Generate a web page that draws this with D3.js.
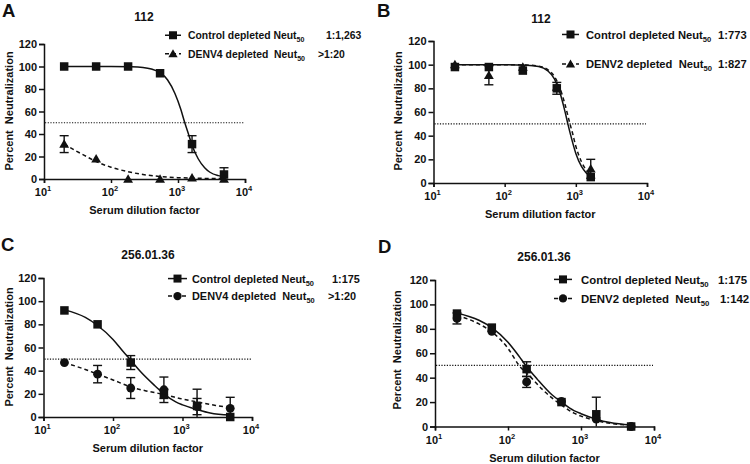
<!DOCTYPE html>
<html><head><meta charset="utf-8">
<script src="https://cdn.jsdelivr.net/npm/d3@7"></script>
<style>
html,body{margin:0;padding:0;background:#fff;}
svg{display:block;}
text{font-family:"Liberation Sans",Arial,sans-serif;font-weight:bold;fill:#111;}
</style></head>
<body>
<svg id="chart" width="750" height="464"></svg>
<script>
// ---------- data ----------
const dilutions = [20, 60, 180, 540, 1620, 4860];
const dilutionsB = [20, 60, 180, 540, 1620];
const yTicks = [0, 20, 40, 60, 80, 100, 120];
const xTicks = [10, 100, 1000, 10000];
const xTickExp = ["1", "2", "3", "4"];

// Panel A (112)
const aControl = [100, 100, 100, 94, 31, 4];
const aControlErr = [0, 0, 0, 0, 7.5, 6];
const aDenv4 = [31, 18, 0, 0, 1, 0];
const aDenv4Err = [7.5, 0, 0, 0, 0, 0];
const aControlFit = [[20,100],[100,100],[200,99.8],[300,99.2],[400,97.8],[540,94.5],[700,88],[900,76],[1100,62],[1263,50],[1450,39],[1620,30],[2000,18],[2500,10],[3000,6],[4000,3],[4860,2]];
const aDenv4Fit = [[20,31],[30,25],[40,21],[60,15.5],[100,10.5],[180,6.5],[300,4],[540,2.2],[1000,1.2],[1620,0.8],[4860,0.3]];

// Panel B (112)
const bControl = [98, 98, 95, 80, 5];
const bControlErr = [0, 0, 0, 5, 0];
const bDenv2 = [100, 91, 98, 81, 12];
const bDenv2Err = [0, 8, 0, 0, 8];
const bControlFit = [[20,100],[100,100],[200,99.6],[300,98.5],[400,95],[500,88],[600,76],[700,61],[773,50],[850,40],[1000,25],[1200,14],[1400,8.5],[1620,5.5]];
const bDenv2Fit = [[20,100],[100,100],[200,99.7],[300,98.8],[400,96],[500,90],[600,80],[700,67],[827,50],[900,42],[1000,31],[1200,18],[1400,11],[1620,7.5]];

// Panel C (256.01.36)
const cControl = [92, 80, 47, 20, 9.5, 0];
const cControlErr = [0, 0, 6, 4, 14.5, 0];
const cDenv4 = [47, 37, 25, 23.5, 9, 7.5];
const cDenv4Err = [0, 7.5, 9, 11, 7, 9.5];
const cControlFit = [[20,92.5],[40,86],[60,79],[100,67],[140,56.5],[175,50],[250,39],[400,27],[540,20],[800,13],[1000,10.5],[1620,6.5],[2500,3.5],[4860,1.7]];
const cDenv4Fit = [[20,47],[40,41],[60,37],[100,32],[180,26],[300,22.5],[540,19.5],[1000,15.5],[1620,13],[3000,10],[4860,8]];

// Panel D (256.01.36)
const dControl = [92.5, 81, 47, 20, 10, 0];
const dControlErr = [0, 0, 6, 0, 14, 0];
const dDenv2 = [88.5, 78, 36.5, 20.5, 6, 0];
const dDenv2Err = [4.5, 0, 4.5, 0, 0, 0];
const dControlFit = [[20,93],[40,87],[60,81],[100,69],[140,58],[175,50],[250,39],[400,26],[540,20],[800,13],[1000,10.5],[1620,6],[2500,3.2],[4860,1.2]];
const dDenv2Fit = [[20,91],[40,84],[60,77.5],[100,64],[142,50],[200,41],[300,30],[540,17.5],[800,11],[1000,8.5],[1620,4.8],[2500,2.6],[4860,1]];

// ---------- layout ----------
const panels = [
  {letter:"A", title:"112", lx:[2,17], tx:[144,21], x0:44, x1:245, y0:179, y1:44, yTitle:[9,111], xTitle:35,
   legFs:10.4, legSym:[165,181], legText:188, legRows:[39,57.5], valX:[326,318],
   series:[
     {name:"Control depleted Neut", val:"1:1,263", x:dilutions, y:aControl, e:aControlErr, fit:aControlFit, mark:"square", dash:null},
     {name:"DENV4 depleted  Neut", val:">1:20", x:dilutions, y:aDenv4, e:aDenv4Err, fit:aDenv4Fit, mark:"triangle", dash:"4,3"}]},
  {letter:"B", title:"112", lx:[377,17], tx:[541,22.5], x0:433.5, x1:647, y0:183, y1:41, yTitle:[398,111], xTitle:35,
   legFs:11.2, legSym:[562,579], legText:586, legRows:[38.5,68], valX:[718,718],
   series:[
     {name:"Control depleted Neut", val:"1:773", x:dilutionsB, y:bControl, e:bControlErr, fit:bControlFit, mark:"square", dash:null},
     {name:"DENV2 depleted  Neut", val:"1:827", x:dilutionsB, y:bDenv2, e:bDenv2Err, fit:bDenv2Fit, mark:"triangle", dash:"4,3"}]},
  {letter:"C", title:"256.01.36", lx:[1,251], tx:[148,259], x0:43.5, x1:252, y0:417, y1:278, yTitle:[9,347], xTitle:35,
   legFs:10.9, legSym:[168,187], legText:192, legRows:[282.5,300], valX:[332,328],
   series:[
     {name:"Control depleted Neut", val:"1:175", x:dilutions, y:cControl, e:cControlErr, fit:cControlFit, mark:"square", dash:null},
     {name:"DENV4 depleted  Neut", val:">1:20", x:dilutions, y:cDenv4, e:cDenv4Err, fit:cDenv4Fit, mark:"circle", dash:"4,3"}]},
  {letter:"D", title:"256.01.36", lx:[378,253], tx:[544,261], x0:435, x1:654, y0:426.5, y1:280, yTitle:[397,350], xTitle:35,
   legFs:11.4, legSym:[554,572], legText:581, legRows:[283.5,302.5], valX:[718,720],
   series:[
     {name:"Control depleted Neut", val:"1:175", x:dilutions, y:dControl, e:dControlErr, fit:dControlFit, mark:"square", dash:null},
     {name:"DENV2 depleted  Neut", val:"1:142", x:dilutions, y:dDenv2, e:dDenv2Err, fit:dDenv2Fit, mark:"circle", dash:"4,3"}]}
];

const svg = d3.select("#chart");

function drawMarker(g, type, cx, cy, s) {
  if (type === "square") {
    g.append("rect").attr("x", cx - s/2).attr("y", cy - s/2).attr("width", s).attr("height", s).attr("fill", "#111");
  } else if (type === "triangle") {
    const h = s * 0.95;
    g.append("path").attr("d", `M${cx},${cy - h*0.6}L${cx + s*0.58},${cy + h*0.45}L${cx - s*0.58},${cy + h*0.45}Z`).attr("fill", "#111");
  } else {
    g.append("circle").attr("cx", cx).attr("cy", cy).attr("r", s*0.52).attr("fill", "#111");
  }
}

panels.forEach(p => {
  const g = svg.append("g");
  const x = d3.scaleLog().domain([10, 10000]).range([p.x0, p.x1]);
  const y = d3.scaleLinear().domain([0, 120]).range([p.y0, p.y1]);

  // letter & title
  g.append("text").attr("x", p.lx[0]).attr("y", p.lx[1]).attr("font-size", 18.5).text(p.letter);
  g.append("text").attr("x", p.tx[0]).attr("y", p.tx[1]).attr("text-anchor", "middle").attr("font-size", 12).text(p.title);

  // y axis
  const ya = g.append("g").attr("transform", `translate(${p.x0},0)`)
    .call(d3.axisLeft(y).tickValues(yTicks).tickSize(5).tickPadding(2).tickFormat(d3.format("d")));
  ya.select(".domain").attr("stroke", "#111").attr("stroke-width", 1.5);
  ya.selectAll(".tick line").attr("stroke", "#111").attr("stroke-width", 1.5);
  ya.selectAll(".tick text").attr("font-size", 11).attr("font-family", "Liberation Sans, Arial, sans-serif").attr("font-weight", "bold").attr("fill", "#111");

  // x axis
  const xa = g.append("g").attr("transform", `translate(0,${p.y0})`)
    .call(d3.axisBottom(x).tickValues(xTicks).tickSize(4).tickFormat(() => ""));
  xa.select(".domain").attr("stroke", "#111").attr("stroke-width", 1.5);
  xa.selectAll(".tick line").attr("stroke", "#111").attr("stroke-width", 1.5);
  xTicks.forEach((t, i) => {
    const tx = g.append("text").attr("x", x(t) - 1).attr("y", p.y0 + 17).attr("text-anchor", "middle").attr("font-size", 11);
    tx.append("tspan").text("10");
    tx.append("tspan").attr("dy", -5).attr("font-size", 7.5).text(xTickExp[i]);
  });

  // axis titles
  g.append("text").attr("transform", `translate(${p.yTitle[0] + 4},${p.yTitle[1]}) rotate(-90)`)
    .attr("text-anchor", "middle").attr("font-size", 11).style("white-space", "pre").text("Percent  Neutralization");
  g.append("text").attr("x", (p.x0 + p.x1) / 2).attr("y", p.y0 + p.xTitle).attr("text-anchor", "middle")
    .attr("font-size", 11).text("Serum dilution factor");

  // 50% dotted line
  g.append("line").attr("x1", p.x0 + 1).attr("x2", p.x1 - 1).attr("y1", y(50)).attr("y2", y(50))
    .attr("stroke", "#111").attr("stroke-width", 1.2).attr("stroke-dasharray", "1.2,1.5");

  // fitted curves
  const line = d3.line().x(d => x(d[0])).y(d => y(d[1])).curve(d3.curveMonotoneX);
  p.series.forEach(s => {
    g.append("path").attr("d", line(s.fit)).attr("fill", "none").attr("stroke", "#111")
      .attr("stroke-width", 1.5).attr("stroke-dasharray", s.dash);
  });

  // error bars & markers
  p.series.forEach(s => {
    s.x.forEach((xv, i) => {
      const e = s.e[i];
      if (e > 0) {
        const cx = x(xv);
        const top = y(s.y[i] + e), bot = y(Math.max(0, s.y[i] - e));
        g.append("line").attr("x1", cx).attr("x2", cx).attr("y1", top).attr("y2", bot).attr("stroke", "#111").attr("stroke-width", 1.4);
        g.append("line").attr("x1", cx - 4.5).attr("x2", cx + 4.5).attr("y1", top).attr("y2", top).attr("stroke", "#111").attr("stroke-width", 1.4);
        if (s.y[i] - e > 0) g.append("line").attr("x1", cx - 4.5).attr("x2", cx + 4.5).attr("y1", bot).attr("y2", bot).attr("stroke", "#111").attr("stroke-width", 1.4);
      }
    });
  });
  p.series.forEach(s => {
    s.x.forEach((xv, i) => drawMarker(g, s.mark, x(xv), y(s.y[i]), 8.5));
  });

  // legend
  p.series.forEach((s, k) => {
    const by = p.legRows[k], cy = by - p.legFs * 0.36;
    g.append("line").attr("x1", p.legSym[0]).attr("x2", p.legSym[1]).attr("y1", cy).attr("y2", cy)
      .attr("stroke", "#111").attr("stroke-width", 1.5).attr("stroke-dasharray", s.dash);
    drawMarker(g, s.mark, (p.legSym[0] + p.legSym[1]) / 2, cy, 8);
    const t = g.append("text").attr("x", p.legText).attr("y", by).attr("font-size", p.legFs).style("white-space", "pre");
    t.append("tspan").text(s.name);
    t.append("tspan").attr("dy", 3).attr("font-size", p.legFs * 0.68).text("50");
    g.append("text").attr("x", p.valX[k]).attr("y", by).attr("font-size", p.legFs).text(s.val);
  });
});
</script>
</body></html>
